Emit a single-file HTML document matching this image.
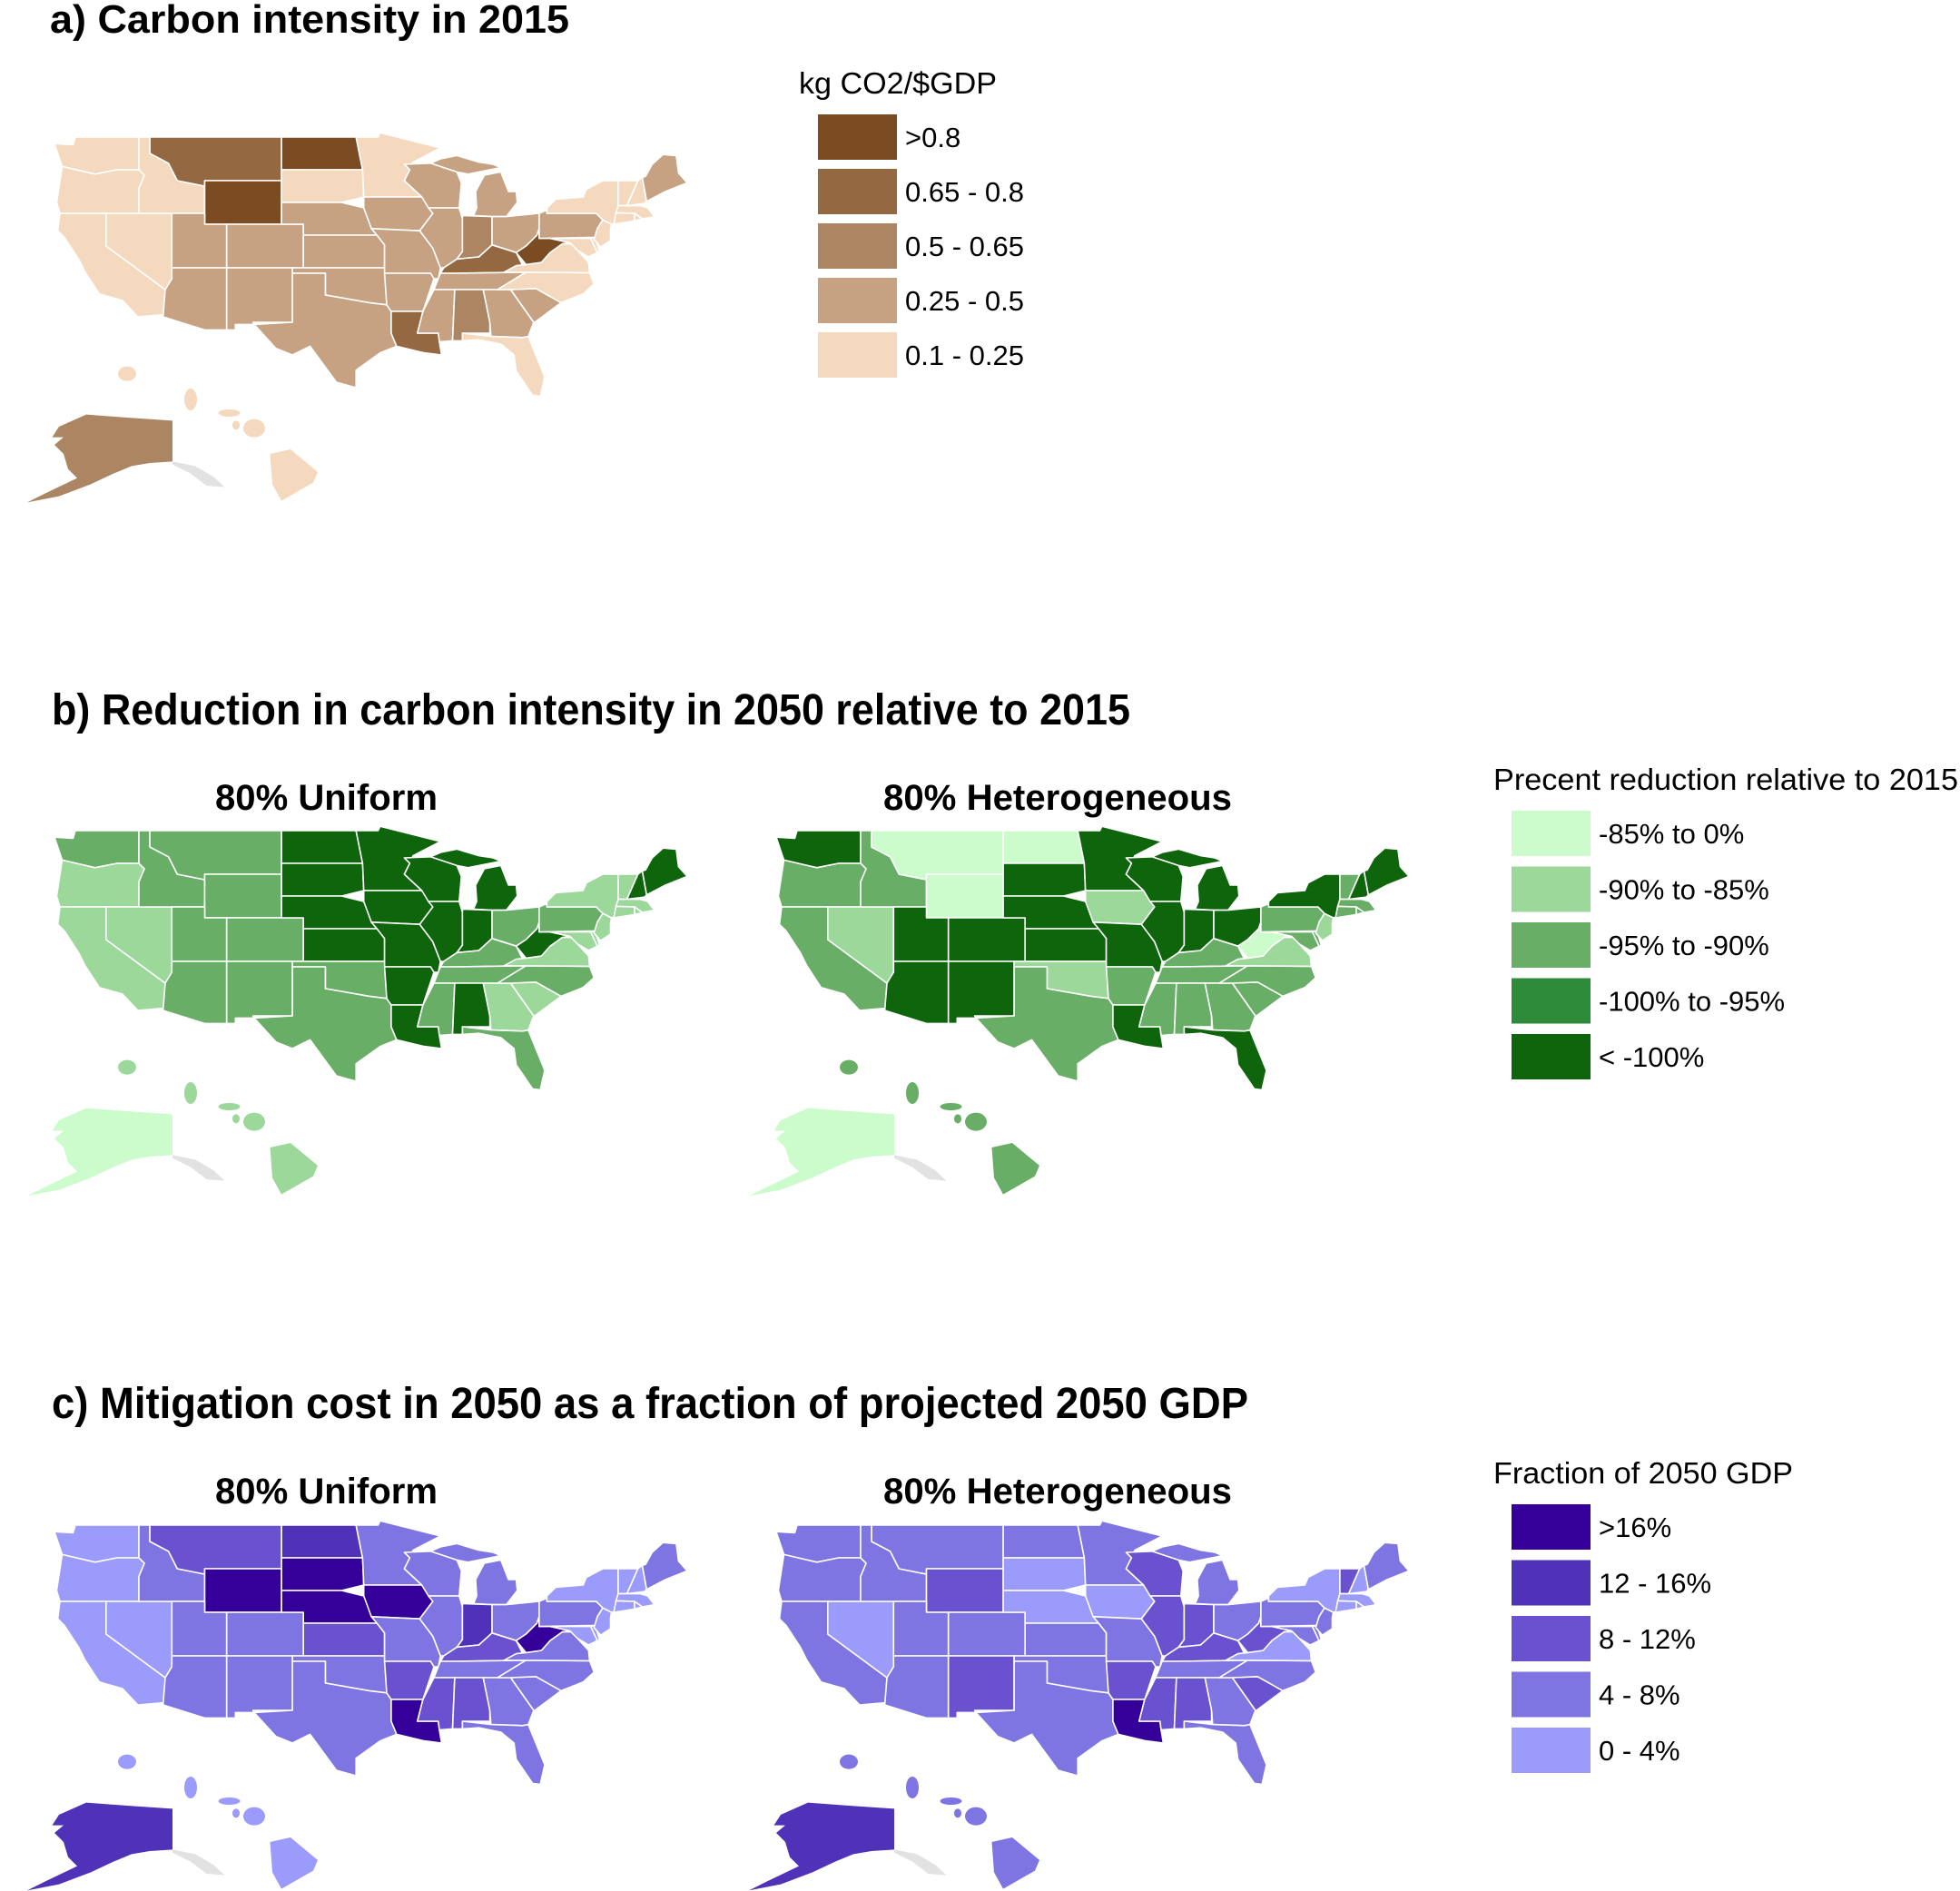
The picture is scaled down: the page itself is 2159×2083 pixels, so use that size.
<!DOCTYPE html>
<html><head><meta charset="utf-8"><style>
html,body{margin:0;padding:0;background:#fff;}
svg{display:block;font-family:"Liberation Sans",Arial,sans-serif;}
</style></head><body>
<svg id="fig" width="2159" height="2083" viewBox="0 0 2159 2083" xmlns="http://www.w3.org/2000/svg">
<rect width="2159" height="2083" fill="#fff"/>
<text x="55" y="36" font-size="44" font-weight="bold" textLength="572" lengthAdjust="spacingAndGlyphs">a) Carbon intensity in 2015</text>
<text x="57" y="798" font-size="48" font-weight="bold" textLength="1188" lengthAdjust="spacingAndGlyphs">b) Reduction in carbon intensity in 2050 relative to 2015</text>
<text x="57" y="1562" font-size="48" font-weight="bold" textLength="1318" lengthAdjust="spacingAndGlyphs">c) Mitigation cost in 2050 as a fraction of projected 2050 GDP</text>
<text x="237" y="892" font-size="40" font-weight="bold" textLength="245" lengthAdjust="spacingAndGlyphs">80% Uniform</text>
<text x="973" y="892" font-size="40" font-weight="bold" textLength="384" lengthAdjust="spacingAndGlyphs">80% Heterogeneous</text>
<text x="237" y="1656" font-size="40" font-weight="bold" textLength="245" lengthAdjust="spacingAndGlyphs">80% Uniform</text>
<text x="973" y="1656" font-size="40" font-weight="bold" textLength="384" lengthAdjust="spacingAndGlyphs">80% Heterogeneous</text>
<g id="maps"></g>
<g id="legends"></g>
</svg>
<script>
const stateCodes = ["WA","OR","CA","NV","ID","MT","WY","UT","AZ","CO","NM","ND","SD","NE","KS","OK","TX","MN","IA","MO","AR","LA","WI","IL","MIL","MIU","IN","OH","KY","TN","MS","AL","GA","FL","SC","NC","VA","WV","MD","DE","PA","NJ","NY","VT","NH","ME","MA","CT","RI","AK","HI"];
const classA  = [0,0,0,0,0,3,4,1,1,1,1,4,0,1,1,1,1,0,1,1,1,3,1,1,1,1,2,1,3,1,1,2,1,0,1,0,0,4,0,0,1,0,0,0,0,1,0,0,0,2,0];
const classBU = [2,1,1,1,2,2,2,2,2,2,2,4,4,4,4,2,2,4,4,4,4,4,4,4,4,4,4,2,2,2,2,4,1,2,1,2,1,4,1,1,2,1,1,1,4,4,1,1,1,0,1];
const classBH = [4,2,2,1,2,0,0,4,4,4,4,0,4,4,4,1,2,4,1,4,2,4,4,4,4,4,4,4,2,2,2,2,2,4,2,2,1,0,2,2,2,1,4,2,4,4,2,2,2,0,2];
const classCU = [0,0,0,0,1,2,4,1,1,1,1,3,4,4,2,1,1,1,4,1,2,4,1,1,1,1,3,1,2,1,2,2,1,1,1,1,1,4,0,0,1,0,0,0,0,1,0,0,0,3,0];
const classCH = [1,1,1,0,1,1,2,1,1,1,2,1,0,0,1,1,1,1,0,1,2,4,2,2,1,1,2,1,2,1,2,2,1,1,2,1,0,2,1,1,1,1,0,2,0,1,0,0,0,3,1];
const brownColors  = ["#f5d9bf","#c6a283","#ac8663","#946840","#7b4c21"];
const greenColors  = ["#cdfccc","#9dd89b","#69ae66","#2e8b3a","#0e650c"];
const purpleColors = ["#9a9bfa","#7e74e2","#6a51cf","#5032b8","#35009a"];
const brownLabels  = ["0.1 - 0.25","0.25 - 0.5","0.5 - 0.65","0.65 - 0.8",">0.8"];
const greenLabels  = ["-85% to 0%","-90% to -85%","-95% to -90%","-100% to -95%","< -100%"];
const purpleLabels = ["0 - 4%","4 - 8%","8 - 12%","12 - 16%",">16%"];

const shapes = {
WA:[[-124.7,48.4],[-123,48.3],[-122.8,49],[-117,49],[-117,46],[-119,46],[-121,45.6],[-124,46.3]],
OR:[[-124,46.3],[-121,45.6],[-119,46],[-117,46],[-116.5,45.5],[-117,44.3],[-117,42],[-124.2,42],[-124.5,43]],
CA:[[-124.2,42],[-120,42],[-120,39],[-114.6,35],[-114.7,32.7],[-117.1,32.5],[-118.5,34],[-120.6,34.6],[-121.9,36.6],[-122.5,37.8],[-123.8,39.8],[-124.4,40.4]],
NV:[[-120,42],[-114,42],[-114,36],[-114.6,35],[-120,39]],
ID:[[-117,49],[-116,49],[-116,47.5],[-114.3,46.6],[-113.5,45],[-111,44.5],[-111,42],[-117,42],[-117,44.3],[-116.5,45.5],[-117,46]],
MT:[[-116,49],[-104,49],[-104,45],[-111,45],[-111,44.5],[-113.5,45],[-114.3,46.6],[-116,47.5]],
WY:[[-111,45],[-104,45],[-104,41],[-111,41]],
UT:[[-114,42],[-111,42],[-111,41],[-109,41],[-109,37],[-114,37]],
AZ:[[-114,37],[-109,37],[-109,31.3],[-111,31.3],[-114.8,32.5],[-114.6,35],[-114,36]],
CO:[[-109,41],[-102,41],[-102,37],[-109,37]],
NM:[[-109,37],[-103,37],[-103,32],[-106.6,32],[-106.5,31.8],[-108.2,31.8],[-108.2,31.3],[-109,31.3]],
ND:[[-104,49],[-97.2,49],[-96.6,46],[-104,46]],
SD:[[-104,46],[-96.6,46],[-96.5,43.5],[-98.5,43],[-104,43]],
NE:[[-104,43],[-98.5,43],[-96.5,42.5],[-95.3,40],[-102,40],[-102,41],[-104,41]],
KS:[[-102,40],[-95.3,40],[-94.6,39.1],[-94.6,37],[-102,37]],
OK:[[-103,37],[-94.6,37],[-94.4,33.6],[-96,33.8],[-100,34.5],[-100,36.5],[-103,36.5]],
TX:[[-103,36.5],[-100,36.5],[-100,34.5],[-96,33.8],[-94.4,33.6],[-94,33],[-94,31],[-93.5,29.8],[-95,29.2],[-97.2,27.6],[-97.2,26],[-99,26.5],[-101.4,29.8],[-103,29],[-104.5,29.6],[-106.5,31.8],[-103,32]],
MN:[[-97.2,49],[-95.2,49],[-95,49.4],[-89.5,48],[-92,46.7],[-92.3,46],[-92.8,45],[-91.2,43.5],[-96.5,43.5],[-96.6,46]],
IA:[[-96.5,43.5],[-91.2,43.5],[-90.2,42],[-91.4,40.4],[-95.8,40.6],[-96.5,42.5]],
MO:[[-95.8,40.6],[-91.4,40.4],[-90.2,38.8],[-89.5,37],[-89.7,36],[-90.1,36],[-90.4,36.5],[-94.6,36.5],[-94.6,39.1],[-95.3,40]],
AR:[[-94.6,36.5],[-90.4,36.5],[-90.1,36],[-91.1,33],[-94,33],[-94.4,33.6]],
LA:[[-94,33],[-91.1,33],[-91.6,31],[-89.7,31],[-89.6,30.2],[-89.4,29],[-91,29.2],[-93.5,29.8],[-94,31]],
WI:[[-92.8,46.5],[-90.4,46.6],[-88,45.8],[-87.6,44.8],[-87.8,42.5],[-90.6,42.5],[-91.2,43.5],[-92.8,45],[-92.3,46]],
IL:[[-90.6,42.5],[-87.8,42.5],[-87.5,41.5],[-87.5,38.5],[-88,37.8],[-89.2,37],[-89.5,37],[-90.2,38.8],[-91.4,40.4],[-90.2,42]],
MIL:[[-86.5,41.8],[-84.8,41.7],[-83.5,41.7],[-82.5,43],[-82.6,44],[-83.3,44],[-84,45.8],[-85.5,45.5],[-86.3,44],[-86.2,42.5]],
MIU:[[-90.4,46.6],[-88,45.8],[-87,45.6],[-85,46],[-84,46.2],[-84.7,46.5],[-86,46.7],[-88,47.3],[-89.5,47]],
IN:[[-87.5,41.8],[-84.8,41.7],[-84.8,39.1],[-86,38],[-88,37.8],[-87.5,38.5]],
OH:[[-84.8,41.7],[-83.5,41.7],[-80.5,42],[-80.5,40.6],[-80.7,40],[-81.7,39],[-82.6,38.4],[-84.8,39.1]],
KY:[[-89.5,36.5],[-88,36.5],[-81.7,36.6],[-82.6,38.4],[-84.8,39.1],[-86,38],[-88,37.8],[-89.2,37]],
TN:[[-90.1,35],[-88.2,35],[-84.3,35],[-81.7,36.6],[-88,36.5],[-89.5,36.5],[-89.7,36]],
MS:[[-91.1,33],[-90.1,35],[-88.2,35],[-88.4,30.3],[-89.6,30.2],[-89.7,31],[-91.6,31]],
AL:[[-88.2,35],[-85.6,35],[-85,32],[-85,31],[-87.5,31],[-87.5,30.3],[-88.4,30.3]],
GA:[[-85.6,35],[-83.1,35],[-81,32],[-81.5,30.7],[-82,30.6],[-84.9,30.7],[-85,32]],
FL:[[-87.5,31],[-84.9,30.7],[-82,30.6],[-81.5,30.7],[-80,27],[-80.4,25.2],[-81.1,25.3],[-82.6,27.5],[-82.8,29],[-84,30],[-86,30.4],[-87.5,30.3]],
SC:[[-83.1,35],[-80.8,35.1],[-78.5,33.8],[-80.9,32],[-81,32]],
NC:[[-84.3,35],[-81.7,36.6],[-75.9,36.55],[-75.5,35.5],[-76.5,34.6],[-78.5,33.8],[-80.8,35.1],[-83.1,35]],
VA:[[-83.7,36.6],[-75.9,36.55],[-76,37.5],[-77,38.6],[-77.5,39.2],[-78.4,39.2],[-79.5,38.4],[-80.3,37.5],[-81.7,37.3],[-82.6,37.2]],
WV:[[-82.6,38.4],[-81.7,37.3],[-80.3,37.5],[-79.5,38.4],[-78.4,39.2],[-77.7,39.3],[-79.5,39.7],[-80.5,39.7],[-80.5,40.6],[-80.7,40],[-81.7,39]],
MD:[[-79.5,39.7],[-75.8,39.7],[-75.2,38.4],[-76,38],[-77,38.6],[-77.7,39.3]],
DE:[[-75.8,39.7],[-75.4,39.8],[-75,38.5],[-75.2,38.4]],
PA:[[-80.5,42],[-79.8,42.3],[-79.8,42],[-75.3,42],[-74.7,41.4],[-75.2,40.6],[-75.4,39.8],[-80.5,39.7]],
NJ:[[-74.7,41.4],[-73.9,41],[-74,40.5],[-74,39.5],[-74.9,38.9],[-75.5,39.6],[-75.2,40.6]],
NY:[[-79.8,42],[-79.8,42.5],[-79,43.3],[-76.5,43.5],[-76.2,44.2],[-74.7,45],[-73.3,45],[-73.3,42.7],[-73.5,41.1],[-73.9,41],[-74.7,41.4],[-75.3,42]],
VT:[[-73.3,45],[-71.5,45],[-72.5,42.7],[-73.3,42.7]],
NH:[[-72.5,42.7],[-71.5,45],[-71.1,45.3],[-70.7,43.1],[-70.9,42.9]],
ME:[[-71.1,45.3],[-70.8,45.4],[-70.2,46.5],[-69.2,47.4],[-68,47.3],[-67.8,45.7],[-67,44.8],[-69,44],[-70.7,43.1]],
MA:[[-73.5,42.05],[-73.3,42.7],[-71.3,42.7],[-70.6,42.5],[-70,41.7],[-71.1,41.5],[-71.8,42]],
CT:[[-73.5,42.05],[-71.8,42],[-71.8,41.3],[-73.7,41]],
RI:[[-71.8,42],[-71.1,41.5],[-71.8,41.3]]
};
// Alaska & Hawaii insets in reference-zoom coords (x/2, 120+y/3)
const akPts = [[130,1050],[190,1010],[280,1020],[380,1030],[380,1165],[330,1170],[290,1180],[250,1205],[200,1240],[130,1280],[60,1300],[100,1270],[170,1220],[150,1190],[140,1140],[120,1110],[140,1085],[115,1085]];
const akPan = [[380,1165],[430,1180],[470,1215],[495,1250],[455,1245],[420,1205],[380,1175]];
const hiBig = [[595,1140],[640,1125],[700,1200],[690,1235],[620,1295],[600,1240]];
// Hawaii small islands: center (zoom coords) and radii in page px
const hiSmall = [[280,875,10,8],[420,960,7,12],[505,1005,12,4],[520,1045,4,5],[560,1055,12,10]];

const NS="http://www.w3.org/2000/svg";
function proj(lon,lat){return [60+(lon+124.7)*12.08, 151+(49-lat)*12.0];}
function insetPt(p){return [p[0]/2, 120+p[1]/3];}
function ptsStr(arr,f){return arr.map(p=>f(p[0],p[1]).map(v=>v.toFixed(1)).join(",")).join(" ");}

const maps = [
 {name:"map-a", dx:0, dy:0, cls:classA, col:brownColors},
 {name:"map-b-uniform", dx:0, dy:764, cls:classBU, col:greenColors},
 {name:"map-b-heterogeneous", dx:795, dy:764, cls:classBH, col:greenColors},
 {name:"map-c-uniform", dx:0, dy:1529, cls:classCU, col:purpleColors},
 {name:"map-c-heterogeneous", dx:795, dy:1529, cls:classCH, col:purpleColors}
];
const mapsG=document.getElementById("maps");
maps.forEach(m=>{
  const g=document.createElementNS(NS,"g");
  
  
  g.setAttribute("transform",`translate(${m.dx},${m.dy})`);
  g.setAttribute("stroke","#fff");g.setAttribute("stroke-width","1.6");g.setAttribute("stroke-linejoin","round");
  stateCodes.forEach((code,i)=>{
    const fill=m.col[m.cls[i]];
    if(shapes[code]){
      const p=document.createElementNS(NS,"polygon");
      
      
      p.setAttribute("points",ptsStr(shapes[code],proj));
      p.setAttribute("fill",fill);
      g.appendChild(p);
    } else if(code==="AK"){
      const pan=document.createElementNS(NS,"polygon");
      
      
      pan.setAttribute("points",akPan.map(p=>insetPt(p).join(",")).join(" "));
      pan.setAttribute("fill","#e2e2e2");pan.setAttribute("stroke","none");
      g.appendChild(pan);
      const p=document.createElementNS(NS,"polygon");
      
      
      p.setAttribute("points",akPts.map(p=>insetPt(p).join(",")).join(" "));
      p.setAttribute("fill",fill);p.setAttribute("stroke","none");
      g.appendChild(p);
    } else if(code==="HI"){
      const hg=document.createElementNS(NS,"g");
      
      
      hg.setAttribute("fill",fill);hg.setAttribute("stroke","none");
      const b=document.createElementNS(NS,"polygon");
      b.setAttribute("points",hiBig.map(p=>insetPt(p).join(",")).join(" "));
      hg.appendChild(b);
      hiSmall.forEach(s=>{
        const e=document.createElementNS(NS,"ellipse");
        const c=insetPt([s[0],s[1]]);
        e.setAttribute("cx",c[0]);e.setAttribute("cy",c[1]);e.setAttribute("rx",s[2]);e.setAttribute("ry",s[3]);
        hg.appendChild(e);
      });
      g.appendChild(hg);
    }
  });
  mapsG.appendChild(g);
});

const legends=[
 {name:"legend-carbon-intensity", title:"kg CO2/$GDP", tx:880, ty:103, tl:218, bx:901, by:126, step:60, col:brownColors, lab:brownLabels},
 {name:"legend-reduction", title:"Precent reduction relative to 2015", tx:1645, ty:870, tl:512, bx:1665, by:893, step:61.5, col:greenColors, lab:greenLabels},
 {name:"legend-cost-fraction", title:"Fraction of 2050 GDP", tx:1645, ty:1634, tl:330, bx:1665, by:1657, step:61.5, col:purpleColors, lab:purpleLabels}
];
const legG=document.getElementById("legends");
legends.forEach((L,li)=>{
  const g=document.createElementNS(NS,"g");
  
  
  const t=document.createElementNS(NS,"text");
  
  
  t.setAttribute("x",L.tx);t.setAttribute("y",L.ty);t.setAttribute("font-size","33");
  t.setAttribute("textLength",L.tl);t.setAttribute("lengthAdjust","spacingAndGlyphs");
  t.textContent=L.title;g.appendChild(t);
  const order = li===1 ? [0,1,2,3,4] : [4,3,2,1,0];
  order.forEach((ci,k)=>{
    const r=document.createElementNS(NS,"rect");
    
    
    r.setAttribute("x",L.bx);r.setAttribute("y",L.by+k*L.step);
    r.setAttribute("width",87);r.setAttribute("height",50);r.setAttribute("fill",L.col[ci]);
    g.appendChild(r);
    const tx=document.createElementNS(NS,"text");
    
    
    tx.setAttribute("x",L.bx+96);tx.setAttribute("y",L.by+k*L.step+36);tx.setAttribute("font-size","31");
    tx.textContent=L.lab[ci];g.appendChild(tx);
  });
  legG.appendChild(g);
});
</script>
</body></html>
